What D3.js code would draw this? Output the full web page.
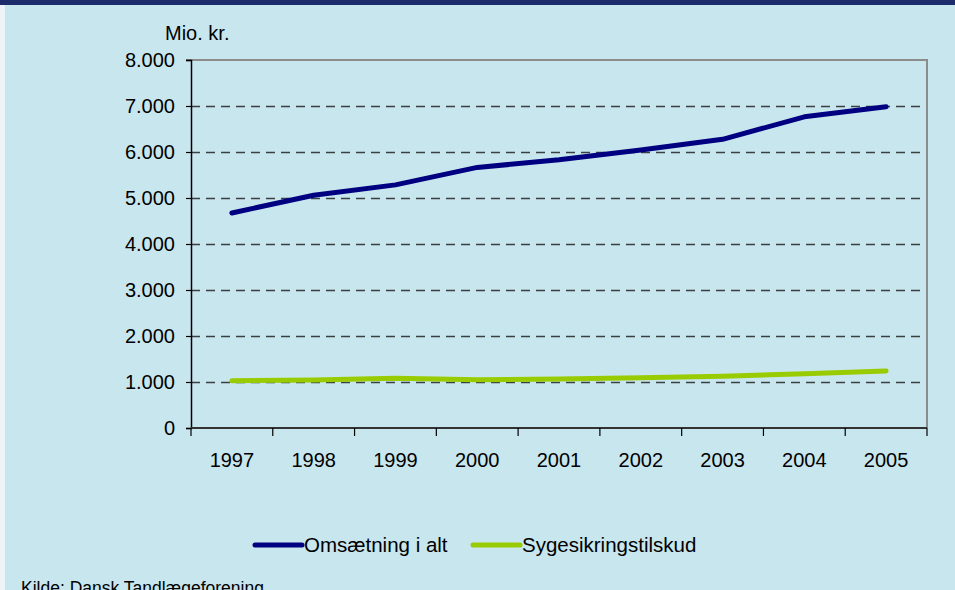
<!DOCTYPE html>
<html>
<head>
<meta charset="utf-8">
<script src="https://cdn.jsdelivr.net/npm/d3@7"></script>
<style>
  html, body { margin: 0; padding: 0; background: #c8e6ee; }
  svg { display: block; font-family: "Liberation Sans", Arial, sans-serif; }
</style>
</head>
<body>
<svg id="chart" width="955" height="590"></svg>
<script>
// chart data
var years = ["1997", "1998", "1999", "2000", "2001", "2002", "2003", "2004", "2005"];
var omsaetning = [4675, 5060, 5285, 5665, 5830, 6045, 6275, 6765, 6985];
var sygesikring = [1025, 1045, 1080, 1050, 1065, 1095, 1125, 1180, 1240];
var yTicks = [0, 1000, 2000, 3000, 4000, 5000, 6000, 7000, 8000];
var seriesNames = ["Omsætning i alt", "Sygesikringstilskud"];
var seriesColors = ["#000080", "#99cc00"];

(function () {
    "use strict";
    var svg = d3.select("#chart"),
        left = 191, right = 927, top = 60, bottom = 428,
        fs = 20,
        fmt = function (d) { return d3.format(",")(d).replace(/,/g, "."); };

    // background, header band, left strip
    svg.append("rect").attr("width", 955).attr("height", 590).attr("fill", "#c8e6ee");
    svg.append("rect").attr("width", 955).attr("height", 5).attr("fill", "#1c2c6a");
    svg.append("rect").attr("y", 5).attr("width", 5).attr("height", 585).attr("fill", "#eef3f5");

    var x = d3.scaleBand().domain(years).range([left, right]);
    var y = d3.scaleLinear().domain([0, 8000]).range([bottom, top]);

    // dashed gridlines
    svg.append("g").selectAll("line")
        .data(yTicks.filter(function (d) { return d > 0 && d < 8000; }))
        .enter().append("line")
        .attr("x1", left).attr("x2", right - 4)
        .attr("y1", function (d) { return Math.round(y(d)) + 0.5; })
        .attr("y2", function (d) { return Math.round(y(d)) + 0.5; })
        .attr("stroke", "#3a3f42").attr("stroke-width", 1.6)
        .attr("stroke-dasharray", "9,6");

    // plot border (top + right)
    svg.append("path")
        .attr("d", "M" + (left - 5) + "," + top + "H" + right + "V" + bottom)
        .attr("fill", "none").attr("stroke", "#8c8c8c").attr("stroke-width", 2);

    // y axis
    var yAxis = svg.append("g")
        .attr("transform", "translate(" + left + ",0)")
        .call(d3.axisLeft(y).tickValues(yTicks).tickFormat(fmt).tickSize(5).tickPadding(11));
    yAxis.select(".domain").attr("stroke", "#000").attr("stroke-width", 1.5);
    yAxis.selectAll(".tick line").attr("stroke", "#000").attr("stroke-width", 1.2);
    yAxis.selectAll("text").attr("font-size", fs).attr("fill", "#000")
        .attr("font-family", "Liberation Sans, Arial, sans-serif");

    // x axis with ticks between categories
    svg.append("line")
        .attr("x1", left).attr("x2", right).attr("y1", bottom).attr("y2", bottom)
        .attr("stroke", "#333").attr("stroke-width", 2);
    var bounds = years.map(function (d) { return x(d); }).concat([right]);
    svg.append("g").selectAll("line").data(bounds).enter().append("line")
        .attr("x1", function (d) { return d; }).attr("x2", function (d) { return d; })
        .attr("y1", bottom).attr("y2", bottom + 8)
        .attr("stroke", "#000").attr("stroke-width", 1.2);
    svg.append("g").selectAll("text").data(years).enter().append("text")
        .attr("x", function (d) { return x(d) + x.bandwidth() / 2; })
        .attr("y", 467)
        .attr("text-anchor", "middle").attr("font-size", fs).attr("fill", "#000")
        .text(function (d) { return d; });

    // unit label
    svg.append("text").attr("x", 165).attr("y", 40)
        .attr("font-size", fs).attr("fill", "#000").text("Mio. kr.");

    // series lines
    var line = d3.line()
        .x(function (d, i) { return x(years[i]) + x.bandwidth() / 2; })
        .y(function (d) { return y(d); });
    [omsaetning, sygesikring].forEach(function (s, i) {
        svg.append("path").datum(s)
            .attr("d", line)
            .attr("fill", "none")
            .attr("stroke", seriesColors[i])
            .attr("stroke-width", 5)
            .attr("stroke-linecap", "round")
            .attr("stroke-linejoin", "round");
    });

    // legend
    var legendX = [255, 473];
    seriesNames.forEach(function (name, i) {
        var g = svg.append("g").attr("transform", "translate(" + legendX[i] + ",545)");
        g.append("line").attr("x1", 0).attr("x2", 47).attr("y1", 0).attr("y2", 0)
            .attr("stroke", seriesColors[i]).attr("stroke-width", 5)
            .attr("stroke-linecap", "round");
        g.append("text").attr("x", 49).attr("y", 7)
            .attr("font-size", 20.5).attr("fill", "#000").text(name);
    });

    // source (cut off at the bottom edge, as in the original)
    svg.append("text").attr("x", 21).attr("y", 594)
        .attr("font-size", 17.5).attr("fill", "#000").text("Kilde: Dansk Tandlægeforening");
}());
</script>
</body>
</html>
